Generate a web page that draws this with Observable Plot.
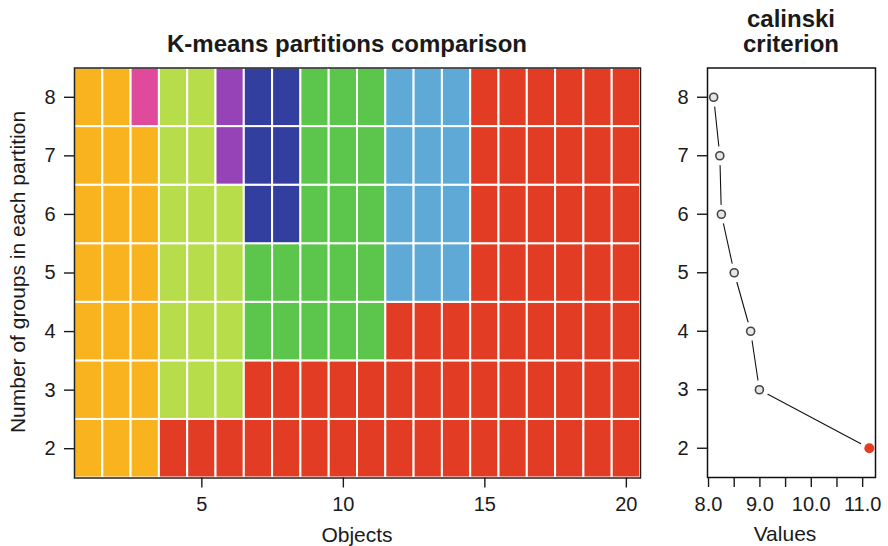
<!DOCTYPE html>
<html><head><meta charset="utf-8">
<script src="https://cdn.jsdelivr.net/npm/d3@7"></script>
<script src="https://cdn.jsdelivr.net/npm/@observablehq/plot@0.6"></script>
<style>
body{margin:0;background:#fff;}
#wrap{position:relative;width:888px;height:546px;overflow:hidden;font-family:"Liberation Sans",Arial,Helvetica,sans-serif;color:#1a1a1a;background:#fff;}
.lbl{position:absolute;transform:translate(-50%,-50%);white-space:nowrap;line-height:1;}
.t{font-weight:bold;font-size:24px;}
.a{font-size:21px;}
#wrap svg{position:absolute;top:0;}
</style></head><body><div id="wrap"></div>
<script>
// ---- data ----
const objects = [1,2,3,4,5,6,7,8,9,10,11,12,13,14,15,16,17,18,19,20];
const groupCounts = [2,3,4,5,6,7,8];
// cluster membership of each object for each partition (letters identify a cluster colour)
const k2 = ["A","A","A","H","H","H","H","H","H","H","H","H","H","H","H","H","H","H","H","H"];
const k3 = ["A","A","A","C","C","C","H","H","H","H","H","H","H","H","H","H","H","H","H","H"];
const k4 = ["A","A","A","C","C","C","F","F","F","F","F","H","H","H","H","H","H","H","H","H"];
const k5 = ["A","A","A","C","C","C","F","F","F","F","F","G","G","G","H","H","H","H","H","H"];
const k6 = ["A","A","A","C","C","C","E","E","F","F","F","G","G","G","H","H","H","H","H","H"];
const k7 = ["A","A","A","C","C","D","E","E","F","F","F","G","G","G","H","H","H","H","H","H"];
const k8 = ["A","A","B","C","C","D","E","E","F","F","F","G","G","G","H","H","H","H","H","H"];
const partitions = [k2,k3,k4,k5,k6,k7,k8];
const clusterIds = ["A","B","C","D","E","F","G","H"];
const palette = ["#F9B31E","#DF4A9A","#B8DD4B","#9543B6","#323F9F","#5BC64B","#5EA9D5","#E23C24"];
const calinski = [11.13, 8.99, 8.82, 8.50, 8.25, 8.22, 8.10];
const xTicks = [5,10,15,20];
const kTicks = [2,3,4,5,6,7,8];
const valueTicks = [8,8.5,9,9.5,10,10.5,11];

// ---- build tables ----
const cells = [];
partitions.forEach((p,i) => p.forEach((g,j) => cells.push({obj: objects[j], k: groupCounts[i], grp: g})));
const cal = groupCounts.map((k,i) => ({k, v: calinski[i]}));
const bestV = d3.max(calinski);
const best = cal.filter(d => d.v === bestV);
const others = cal.filter(d => d.v !== bestV);

const font = '"Liberation Sans",Arial,Helvetica,sans-serif';
const wrap = document.getElementById("wrap");
const intFmt = d => String(d);

const p1 = Plot.plot({
  width: 660, height: 546,
  marginLeft: 74, marginRight: 20, marginTop: 67.5, marginBottom: 68.5,
  x: {domain: [0.5, 20.5]},
  y: {domain: [1.5, 8.5]},
  color: {type: "ordinal", domain: clusterIds, range: palette},
  style: {fontFamily: font, fontSize: "20px", color: "#1a1a1a", background: "transparent", overflow: "visible"},
  marks: [
    Plot.rect(cells, {x1: d => d.obj - 0.5, x2: d => d.obj + 0.5, y1: d => d.k - 0.5, y2: d => d.k + 0.5,
      fill: "grp", stroke: "white", strokeWidth: 2}),
    Plot.frame({stroke: "#222", strokeWidth: 1.5}),
    Plot.axisX({ticks: xTicks, tickFormat: intFmt, tickSize: 10, tickPadding: 9, label: null, strokeWidth: 1.4, fontSize: 20}),
    Plot.axisY({ticks: kTicks, tickFormat: intFmt, tickSize: 10, tickPadding: 9, label: null, strokeWidth: 1.4, fontSize: 20})
  ]
});
p1.style.left = "0px";
wrap.appendChild(p1);

const p2 = Plot.plot({
  width: 228, height: 546,
  marginLeft: 47, marginRight: 13, marginTop: 67.5, marginBottom: 69,
  x: {domain: [7.98, 11.25]},
  y: {domain: [1.5, 8.5]},
  style: {fontFamily: font, fontSize: "20px", color: "#1a1a1a", background: "transparent", overflow: "visible"},
  marks: [
    Plot.line(cal, {x: "v", y: "k", stroke: "#111", strokeWidth: 1.1}),
    Plot.dot(cal, {x: "v", y: "k", r: 9.5, fill: "white"}),
    Plot.frame({stroke: "#111", strokeWidth: 1.5}),
    Plot.axisX({ticks: valueTicks, tickFormat: d => Number.isInteger(d) ? d.toFixed(1) : "", tickSize: 10, tickPadding: 9, label: null, strokeWidth: 1.4, fontSize: 20}),
    Plot.axisY({ticks: kTicks, tickFormat: intFmt, tickSize: 10, tickPadding: 9, label: null, strokeWidth: 1.4, fontSize: 20}),
    Plot.dot(others, {x: "v", y: "k", r: 4, fill: "#e6e6e6", stroke: "#444", strokeWidth: 1.6}),
    Plot.dot(best, {x: "v", y: "k", r: 5, fill: "#E23C24"})
  ]
});
p2.style.left = "660px";
wrap.appendChild(p2);

function label(text, x, y, cls, rot) {
  const d = document.createElement("div");
  d.className = "lbl " + cls;
  d.textContent = text;
  d.style.left = x + "px";
  d.style.top = y + "px";
  if (rot) d.style.transform = "translate(-50%,-50%) rotate(-90deg)";
  wrap.appendChild(d);
}
label("K-means partitions comparison", 347, 44, "t");
label("calinski", 791, 19, "t");
label("criterion", 791, 43.5, "t");
label("Objects", 357, 534, "a");
label("Values", 785, 533, "a");
label("Number of groups in each partition", 17, 272, "a", true);
</script>
</body></html>
